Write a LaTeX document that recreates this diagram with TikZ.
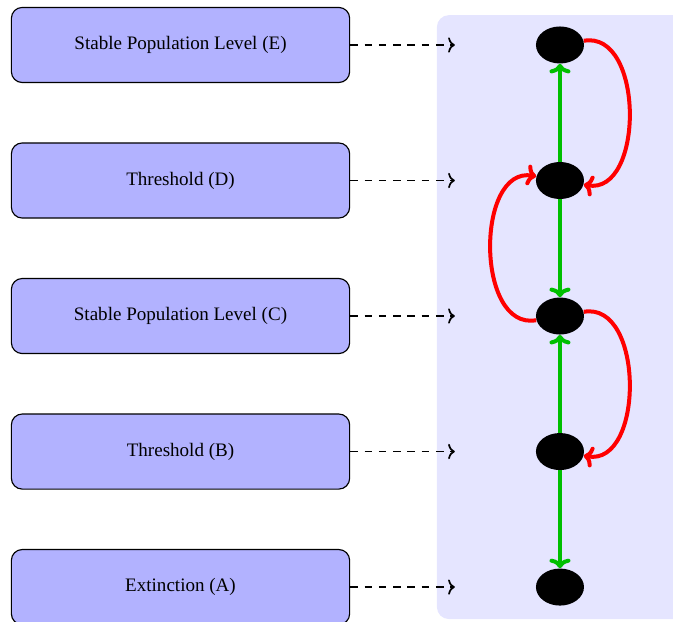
\documentclass[tikz,border=0pt]{standalone}
\usepackage{fontspec}
\setmainfont{Liberation Serif}
\usetikzlibrary{shapes.geometric, arrows.meta}

\begin{document}
\begin{tikzpicture}[
    level/.style={draw=black, semithick, fill=blue!30, rounded corners=0.2cm,
        minimum width=6.24cm, minimum height=1.385cm},
    state/.style={ellipse, fill=black, inner sep=0pt,
        minimum width=0.886cm, minimum height=0.683cm},
    pointer/.style={-{To[length=3.5pt, width=8pt]}, line width=0.9pt,
        dash pattern=on 4pt off 3.5pt},
    up/.style={-{To[length=5pt, width=11pt]}, line width=2.1pt, green!75!black},
    back/.style={-{To[length=5pt, width=11pt]}, line width=2.1pt, red}
  ]

    \path[use as bounding box] (-10.33,-0.64) rectangle (2.085,10.83);
    \fill[blue!10, rounded corners=0.22cm] (-2.27,-0.59) rectangle (2.6,10.55);

    % equilibria
    \node[state] (A) at (0,0) {};
    \node[state] (B) at (0,2.5) {};
    \node[state] (C) at (0,5) {};
    \node[state] (D) at (0,7.5) {};
    \node[state] (E) at (0,10) {};

    % labels
    \node[level] (a) at (-7,0) {Extinction (A)};
    \node[level] (b) at (-7,2.5) {Threshold (B)};
    \node[level] (c) at (-7,5) {Stable Population Level (C)};
    \node[level] (d) at (-7,7.5) {Threshold (D)};
    \node[level] (e) at (-7,10) {Stable Population Level (E)};

    \coordinate (ta) at (-1.94,0);
    \coordinate (tb) at (-1.94,2.5);
    \coordinate (tc) at (-1.94,5);
    \coordinate (td) at (-1.94,7.5);
    \coordinate (te) at (-1.94,10);

    \draw[pointer] (a.east) -- (ta);
    \draw[pointer] (b.east) -- (tb);
    \draw[pointer] (c.east) -- (tc);
    \draw[pointer] (d.east) -- (td);
    \draw[pointer] (e.east) -- (te);

    \draw[up] (D) -- (E);
    \draw[up] (D) -- (C);
    \draw[up] (B) -- (C);
    \draw[up] (B) -- (A);

    \draw[back] (E) to[out=10, in=-10, looseness=1.1] (D);
    \draw[back] (C) to[out=190, in=170, looseness=1.1] (D);
    \draw[back] (C) to[out=10, in=-10, looseness=1.1] (B);
\end{tikzpicture}
\end{document}
